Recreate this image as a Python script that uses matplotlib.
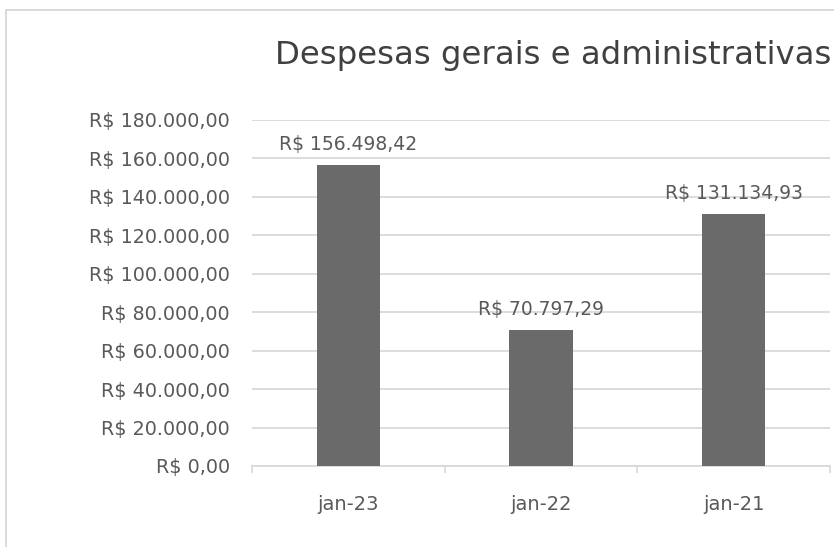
import matplotlib
matplotlib.use('Agg')
import matplotlib.pyplot as plt
from matplotlib.patches import Rectangle

categories = ['jan-23', 'jan-22', 'jan-21']
values = [156498.42, 70797.29, 131134.93]
y_ticks = [0, 20000, 40000, 60000, 80000, 100000, 120000, 140000, 160000, 180000]
title = 'Despesas gerais e administrativas'

TEXT = '#595959'
GRID = '#d9d9d9'
BAR = '#6a6a6a'


def brl(v):
    s = f'{v:,.2f}'
    s = s.replace(',', 'X').replace('.', ',').replace('X', '.')
    return f'R$ {s}'


def main():
    fig = plt.figure(figsize=(8.34, 5.47), dpi=100)
    fig.patches.append(Rectangle((6 / 834, -0.05), 1.2, 1 - 10 / 547 + 0.05,
                                 transform=fig.transFigure, fill=False,
                                 edgecolor='#d4d4d4', linewidth=1.2))

    ax = fig.add_axes([252 / 834, 1 - 466 / 547, (830 - 252) / 834, (466 - 120) / 547])
    xs = list(range(len(categories)))
    ax.bar(xs, values, width=0.33, color=BAR, zorder=3)

    for x, v in zip(xs, values):
        ax.annotate(brl(v), (x, v), xytext=(0, 8), textcoords='offset points',
                    ha='center', va='bottom', fontsize=13.5, color=TEXT)

    ax.set_xlim(-0.5, 2.5)
    ax.set_ylim(0, 180000)
    ax.set_yticks(y_ticks)
    ax.set_yticklabels([brl(t) for t in y_ticks])
    ax.set_xticks(xs)
    ax.set_xticklabels(categories)
    ax.set_xticks([-0.5, 0.5, 1.5, 2.5], minor=True)
    ax.tick_params(axis='x', which='major', length=0, pad=21, labelsize=14, labelcolor=TEXT)
    ax.tick_params(axis='x', which='minor', length=5, color=GRID, width=1.2)
    ax.tick_params(axis='y', length=0, pad=16, labelsize=13.8, labelcolor=TEXT)

    ax.grid(axis='y', color=GRID, linewidth=1.3, zorder=0)
    for side in ['top', 'right', 'left']:
        ax.spines[side].set_visible(False)
    ax.spines['bottom'].set_color(GRID)
    ax.spines['bottom'].set_linewidth(1.3)

    fig.text(553 / 834, 1 - 55 / 547, title, ha='center', va='center',
             fontsize=23.3, color='#404040')

    fig.savefig('out.png', dpi=100)
    plt.close(fig)


if __name__ == '__main__':
    main()
